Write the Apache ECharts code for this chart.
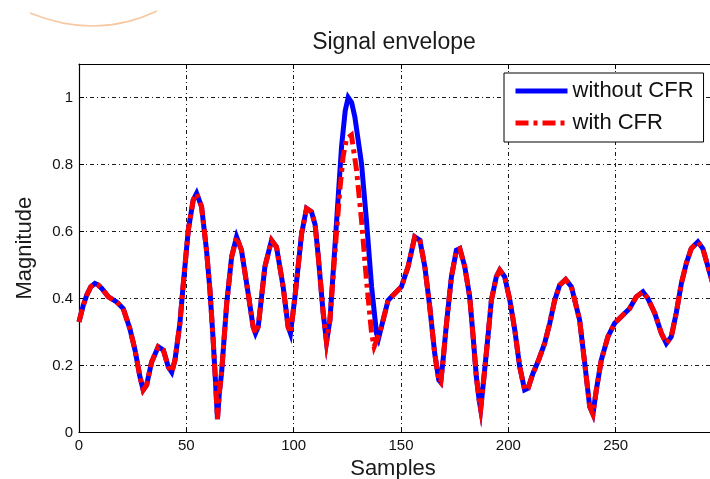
<!DOCTYPE html>
<html>
<head>
<meta charset="utf-8">
<script src="https://cdn.jsdelivr.net/npm/echarts@6/dist/echarts.min.js"></script>
<style>
html,body{margin:0;padding:0;background:#fff;}
#chart{width:710px;height:479px;}
</style>
</head>
<body>
<div id="chart"></div>
<script>
// ---- data ----
var chartTitle = 'Signal envelope';
var xAxisName = 'Samples';
var yAxisName = 'Magnitude';
var seriesNames = ['without CFR', 'with CFR'];
var xTicks = [0, 50, 100, 150, 200, 250, 300];
var yTicks = [0, 0.2, 0.4, 0.6, 0.8, 1];

// signal envelope without CFR
var samples = [0, 2, 3.6, 5.5, 7.4, 9, 10.6, 13.7, 17.5, 20.6, 23.7, 26.1, 28.4, 29.9, 31.5, 33.8, 36.9, 39.3, 41.6, 43.2,
  44.7, 47.0, 48.6, 50.9, 53.2, 54.8, 57.1, 59.4, 61, 62.5, 63.6, 64.5, 65.4, 66.4, 68.8, 71.1, 73.4, 75.7, 78.8, 81.1,
  82.2, 83.5, 86.6, 89.7, 92.0, 95.1, 97.4, 98.5, 100.6, 103.7, 106.0, 108.3, 110, 111.4, 113.7, 115.3, 116.9, 119.2, 122.3, 124,
  125.4, 127, 128.5, 131.6, 133.9, 136.3, 138.6, 139.5, 140.9, 144, 147.1, 150.2, 153.3, 156.4, 158.8, 161.1, 163.4, 165.7, 167.6, 168.5,
  169.6, 171.2, 173.5, 175.8, 177.4, 179.7, 182, 183.6, 185.1, 186.4, 187.1, 188.2, 190.5, 192.1, 194.4, 196, 198.3, 200.7, 203, 205.3,
  207.6, 209.2, 211.5, 213.8, 216.9, 219.3, 221.6, 223.9, 226.7, 229.4, 231.7, 233.2, 235.6, 237.9, 239.4, 241, 243.3, 246.4, 249.5, 253.4,
  256.5, 259.6, 262.7, 265, 268.2, 271.3, 273.6, 275.9, 278.2, 280.6, 282.9, 285.2, 288.3, 290.6, 293, 295, 297, 300];
var withoutCFR = [0.33, 0.38, 0.41, 0.435, 0.445, 0.44, 0.43, 0.405, 0.39, 0.37, 0.31, 0.246, 0.166, 0.127, 0.142, 0.21, 0.256, 0.246, 0.196, 0.18,
  0.216, 0.326, 0.445, 0.604, 0.694, 0.714, 0.674, 0.544, 0.425, 0.276, 0.15, 0.04, 0.12, 0.177, 0.385, 0.524, 0.584, 0.544, 0.415, 0.316,
  0.296, 0.316, 0.495, 0.574, 0.554, 0.435, 0.316, 0.296, 0.405, 0.594, 0.669, 0.659, 0.62, 0.53, 0.36, 0.27, 0.336, 0.554, 0.853, 0.96,
  1.0, 0.985, 0.942, 0.803, 0.634, 0.435, 0.296, 0.28, 0.316, 0.395, 0.415, 0.435, 0.495, 0.584, 0.574, 0.495, 0.375, 0.236, 0.157, 0.15,
  0.216, 0.326, 0.465, 0.544, 0.549, 0.495, 0.405, 0.286, 0.166, 0.097, 0.07, 0.137, 0.286, 0.395, 0.465, 0.485, 0.465, 0.395, 0.306, 0.196,
  0.127, 0.132, 0.177, 0.211, 0.266, 0.326, 0.395, 0.44, 0.457, 0.435, 0.375, 0.336, 0.206, 0.077, 0.055, 0.127, 0.216, 0.286, 0.326, 0.351,
  0.37, 0.405, 0.42, 0.4, 0.356, 0.296, 0.266, 0.286, 0.356, 0.445, 0.505, 0.549, 0.569, 0.549, 0.495, 0.45, 0.41, 0.38];

// with CFR: identical except around the main peak, where the peak is clipped
var cfrPeakSamples = [118.2, 119.5, 121.5, 123.0, 124.6, 126.9, 129.3, 131.6, 133.9, 136.3, 137.5, 139.0];
var cfrPeakValues  = [0.45, 0.56, 0.723, 0.823, 0.877, 0.888, 0.783, 0.634, 0.455, 0.296, 0.256, 0.28];

// ---- build series data ----
var blueData = samples.map(function (s, i) { return [s, withoutCFR[i]]; });
var pStart = cfrPeakSamples[0], pEnd = cfrPeakSamples[cfrPeakSamples.length - 1];
var redData = [];
samples.forEach(function (s, i) { if (s < pStart) redData.push([s, withoutCFR[i]]); });
cfrPeakSamples.forEach(function (s, i) { redData.push([s, cfrPeakValues[i]]); });
samples.forEach(function (s, i) { if (s > pEnd) redData.push([s, withoutCFR[i]]); });

var FONT = "'Liberation Sans', Arial, Helvetica, sans-serif";
var gridDash = [4, 3, 1, 3];

var chart = echarts.init(document.getElementById('chart'), null, {renderer: 'canvas'});
chart.setOption({
  animation: false,
  backgroundColor: '#ffffff',
  textStyle: {fontFamily: FONT},
  title: {
    text: chartTitle,
    left: 389, top: 26, textAlign: 'center',
    textStyle: {fontFamily: FONT, fontSize: 23, fontWeight: 'normal', color: '#1a1a1a'}
  },
  graphic: [{
    type: 'bezierCurve',
    shape: {x1: 30, y1: 13, x2: 157, y2: 11, cpx1: 96, cpy1: 40},
    style: {stroke: '#f6c9a2', lineWidth: 1.5, fill: null}
  }],
  legend: {
    orient: 'vertical',
    left: 504, top: 73,
    padding: [7, 10, 8, 9],
    itemWidth: 52, itemHeight: 20, itemGap: 10,
    backgroundColor: '#ffffff',
    borderColor: '#000000', borderWidth: 1, borderRadius: 0,
    textStyle: {fontFamily: FONT, fontSize: 22, color: '#111111'},
    lineStyle: {width: 5},
    itemStyle: {opacity: 0},
    data: seriesNames
  },
  grid: {left: 79, right: -13, top: 64, bottom: 46.5, containLabel: false, outerBoundsMode: 'none'},
  xAxis: [{
    type: 'value', min: xTicks[0], max: xTicks[xTicks.length - 1], interval: xTicks[1] - xTicks[0],
    name: xAxisName, nameLocation: 'middle', nameGap: 24,
    nameTextStyle: {fontFamily: FONT, fontSize: 22, color: '#1a1a1a', padding: [0, 16, 0, 0]},
    axisLine: {show: true, onZero: false, lineStyle: {color: '#000', width: 1.2}},
    axisTick: {show: true, inside: true, length: 5, lineStyle: {color: '#000'}},
    axisLabel: {fontFamily: FONT, fontSize: 15, color: '#111', margin: 6},
    splitLine: {show: true, lineStyle: {color: '#1a1a1a', width: 1, type: gridDash}}
  }, {
    type: 'value', position: 'top', min: xTicks[0], max: xTicks[xTicks.length - 1], interval: xTicks[1] - xTicks[0],
    axisLine: {show: true, onZero: false, lineStyle: {color: '#000', width: 1.2}},
    axisTick: {show: true, inside: true, length: 5, lineStyle: {color: '#000'}},
    axisLabel: {show: false},
    splitLine: {show: false}
  }],
  yAxis: {
    type: 'value', min: yTicks[0], max: 1.1, interval: yTicks[1] - yTicks[0],
    name: yAxisName, nameLocation: 'middle', nameGap: 43, nameRotate: 90,
    nameTextStyle: {fontFamily: FONT, fontSize: 22, color: '#1a1a1a'},
    axisLine: {show: true, onZero: false, lineStyle: {color: '#000', width: 1.2}},
    axisTick: {show: true, inside: true, length: 5, lineStyle: {color: '#000'}},
    axisLabel: {fontFamily: FONT, fontSize: 15, color: '#111', margin: 6, showMaxLabel: false,
      formatter: function (v) { return yTicks.indexOf(Math.round(v * 10) / 10) >= 0 ? String(Math.round(v * 10) / 10) : ''; }},
    splitLine: {show: true, lineStyle: {color: '#1a1a1a', width: 1, type: gridDash}}
  },
  series: [{
    name: seriesNames[0], type: 'line', data: blueData,
    showSymbol: false, symbol: 'none', smooth: false,
    lineStyle: {color: '#0000ff', width: 5, join: 'miter', miterLimit: 10},
    itemStyle: {color: '#0000ff'},
    z: 3
  }, {
    name: seriesNames[1], type: 'line', data: redData,
    showSymbol: false, symbol: 'none', smooth: false,
    lineStyle: {color: '#ff0000', width: 5, type: [13, 5, 4, 5], join: 'miter', miterLimit: 10},
    itemStyle: {color: '#ff0000'},
    z: 4
  }]
});
</script>
</body>
</html>
